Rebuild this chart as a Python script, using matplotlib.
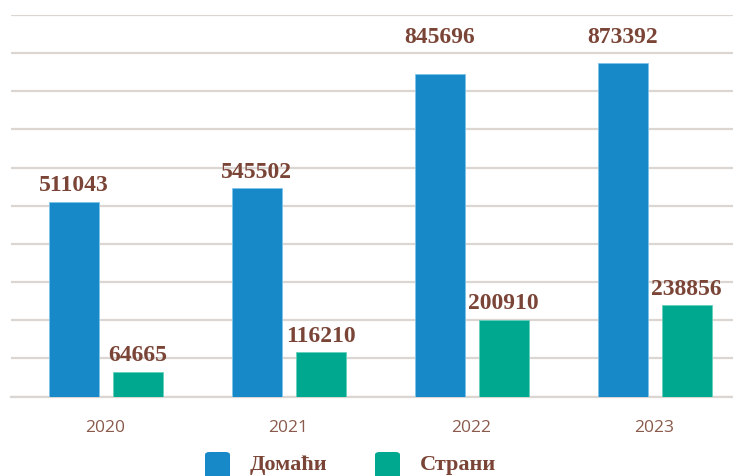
import matplotlib
matplotlib.use("Agg")
import matplotlib.pyplot as plt
from matplotlib.patches import FancyBboxPatch
import numpy as np

years = ["2020", "2021", "2022", "2023"]
series_names = ["Домаћи", "Страни"]
domaci = [511043, 545502, 845696, 873392]
strani = [64665, 116210, 200910, 238856]
series_values = [domaci, strani]
colors = ["#1789c9", "#00a88f"]
edge_colors = ["#7fc4ea", "#66d0bd"]
label_color = "#7a4436"
tick_color = "#8a5a4c"
grid_color = "#dbd6d2"

W, H = 733, 477
fig = plt.figure(figsize=(W / 100, H / 100), dpi=100)
# axes: left 11px, right 733px, top 16px (1,000,000), bottom 397.5px (0)
ax = fig.add_axes([11 / W, 1 - 397.5 / H, (733 - 11) / W, (397.5 - 16) / H])

x = np.arange(len(years))
width = 0.273
offsets = [-0.172, 0.178]
for vals, off, col, ec in zip(series_values, offsets, colors, edge_colors):
    ax.bar(x + off, vals, width=width, color=col, edgecolor=ec, linewidth=0.6, zorder=3)
    for xi, v in zip(x + off, vals):
        if v > 800000:
            ax.text(xi, 943000, f"{v}", ha="center", va="center", fontsize=17,
                    fontweight="bold", family="Liberation Serif", color=label_color, zorder=4)
        else:
            ax.annotate(f"{v}", (xi, v), xytext=(0, 17), textcoords="offset pixels",
                        ha="center", va="center", fontsize=17, fontweight="bold",
                        family="Liberation Serif", color=label_color, zorder=4)

ax.set_xlim((11 - 105) / 183, (733 - 105) / 183)
ax.set_ylim(0, 1000000)
ax.set_yticks(np.arange(0, 1000001, 100000))
ax.yaxis.grid(True, color=grid_color, linewidth=1.6, zorder=0)
ax.set_axisbelow(True)
ax.tick_params(axis="y", left=False, labelleft=False)
ax.set_xticks(x)
ax.set_xticklabels(years, fontsize=12.5, family="Open Sans", color=tick_color)
ax.tick_params(axis="x", length=0, pad=16)
for s in ["top", "right", "left"]:
    ax.spines[s].set_visible(False)
ax.spines["bottom"].set_color(grid_color)
ax.spines["bottom"].set_linewidth(1.6)

# legend
leg_items = [(205, 250), (375, 420)]
for (sx, tx), name, col in zip(leg_items, series_names, colors):
    p = FancyBboxPatch((sx / W, 1 - 480 / H), 25 / W, 27 / H,
                       boxstyle="round,pad=0,rounding_size=0.006", transform=fig.transFigure,
                       facecolor=col, edgecolor="none", clip_on=False)
    fig.patches.append(p)
    fig.text(tx / W, 1 - 465 / H, name, ha="left", va="center", fontsize=16,
             fontweight="bold", family="Liberation Serif", color=label_color)

fig.savefig("out.png", dpi=100)
